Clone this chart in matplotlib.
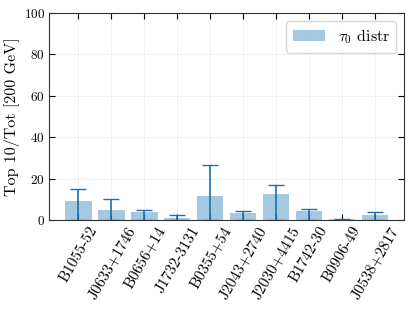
import matplotlib
matplotlib.use("Agg")
import matplotlib.pyplot as plt
import numpy as np

names = ["B1055-52", "J0633+1746", "B0656+14", "J1732-3131", "B0355+54",
         "J2043+2740", "J2030+4415", "B1742-30", "B0906-49", "J0538+2817"]
values = [9.0, 4.7, 3.9, 1.0, 11.6, 3.5, 12.6, 4.2, 0.5, 2.4]
upper = [15.2, 10.0, 4.8, 2.7, 26.8, 4.2, 16.8, 5.3, 0.6, 3.7]

plt.rcParams.update({
    "font.family": "serif",
    "font.serif": ["cmr10"],
    "mathtext.fontset": "cm",
    "axes.unicode_minus": False,
    "axes.formatter.use_mathtext": True,
})

fig, ax = plt.subplots(figsize=(4.13, 3.10), dpi=100)
fig.subplots_adjust(left=0.119, right=0.979, top=0.958, bottom=0.29)

x = np.arange(len(names))
vals = np.array(values)
up = np.array(upper)
yerr = np.vstack([vals, up - vals])
ax.bar(x, vals, width=0.8, color="C0", alpha=0.4, label=r"$\tau_0$ distr")
ax.errorbar(x, vals, yerr=yerr, fmt="none", ecolor="#1f6fb0", elinewidth=1.2,
            capsize=6, capthick=1.0)

ax.set_ylim(0, 100)
ax.set_xticks(x)
ax.set_xticklabels(names, rotation=60, fontsize=11)
ax.set_ylabel("Top 10/Tot [200 GeV]", fontsize=11.5, labelpad=3)
ax.tick_params(axis="y", labelsize=9.5)
ax.tick_params(direction="in", top=True, right=True, length=4, pad=3)
ax.grid(True, color="#eeeeee", linewidth=0.6)
ax.set_axisbelow(True)
for s in ax.spines.values():
    s.set_color("#333333")
leg = ax.legend(loc="upper right", fontsize=11.5, fancybox=True, framealpha=0.8)
fig.savefig("out.png", dpi=100)
